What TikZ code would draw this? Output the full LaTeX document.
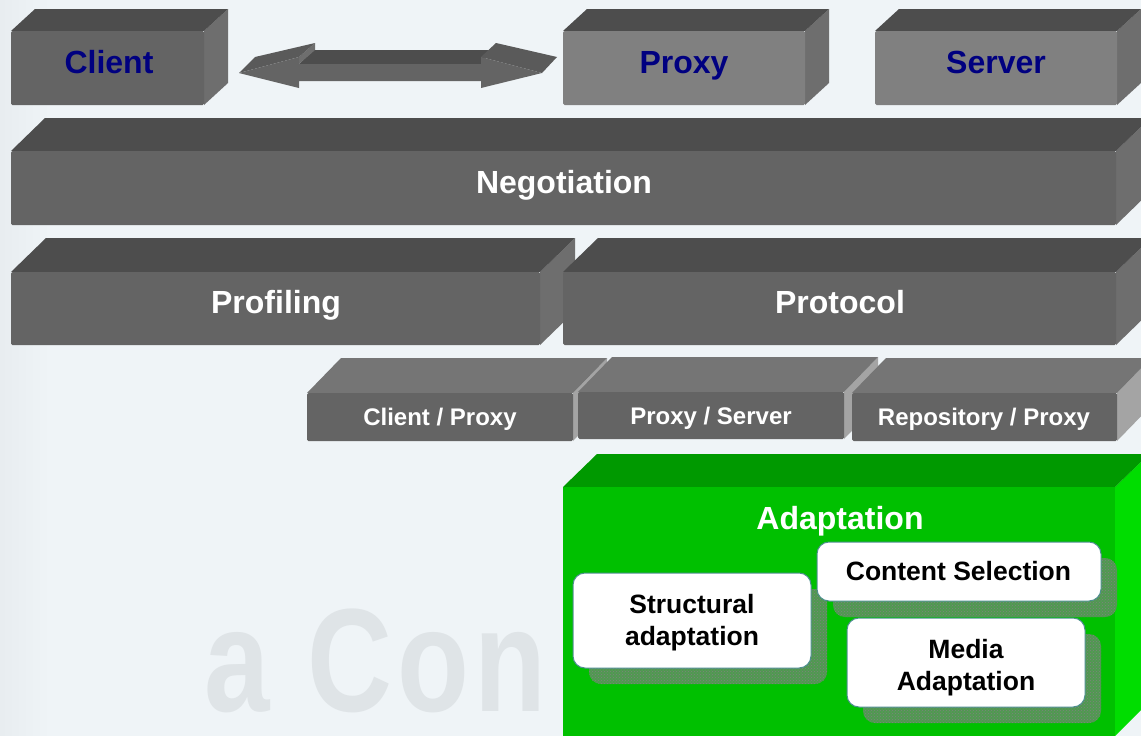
\documentclass[tikz,border=0pt]{standalone}
\usepackage{fontspec}
\setmainfont{Liberation Sans}
\newfontfamily\wmfont[LetterSpace=4.5]{Liberation Sans}
\usetikzlibrary{patterns}
\definecolor{bgc}{HTML}{EFF4F7}
\definecolor{wm}{HTML}{DFE4E7}
\definecolor{frontd}{HTML}{646464}
\definecolor{topd}{HTML}{4D4D4D}
\definecolor{sided}{HTML}{6E6E6E}
\definecolor{frontl}{HTML}{808080}
\definecolor{topm}{HTML}{757575}
\definecolor{sidel}{HTML}{A4A4A4}
\definecolor{grf}{HTML}{00C000}
\definecolor{grt}{HTML}{009900}
\definecolor{grs}{HTML}{00DD00}
\definecolor{navy}{HTML}{000080}
\definecolor{shad}{HTML}{4F9A50}
\definecolor{shaddots}{HTML}{808080}
\definecolor{edgec}{HTML}{4F8F8F}
\tikzset{
 lab/.style={anchor=base,inner sep=0pt},
 big/.style={lab,font=\bfseries\fontsize{32}{32}\selectfont,text=white},
 bigblue/.style={lab,font=\bfseries\fontsize{32}{32}\selectfont,text=navy},
 small/.style={lab,font=\bfseries\fontsize{24}{24}\selectfont,text=white},
 inner/.style={lab,font=\bfseries\fontsize{26.5}{32}\selectfont,text=black},
 softbox/.style={fill=white,draw=edgec,line width=1pt,rounded corners=12pt},
 softshadow/.style={rounded corners=12pt,preaction={fill=shad},pattern=crosshatch dots,pattern color=shaddots}
}
% x0, y0, x1, y1, dx, dy, front, top, side
\newcommand{\cubeface}[9]{%
 \fill[#9] (#3,#2) -- (#3+#5,#2-#6) -- (#3+#5,#4-#6) -- (#3,#4) -- cycle;
 \fill[#8] (#1,#2) -- (#1+#5,#2-#6) -- (#3+#5,#2-#6) -- (#3,#2) -- cycle;
 \fill[#7,rounded corners=1.5pt] (#1,#2) rectangle (#3,#4);
}
\begin{document}
\begin{tikzpicture}[x=1pt,y=-1pt]
\useasboundingbox (0,0) rectangle (1141,736);
\clip (0,0) rectangle (1141,736);
\fill[bgc] (0,0) rectangle (1141,736);
% faint background
\fill[left color=wm!45!bgc,right color=bgc] (0,0) rectangle (50,736);
\node[anchor=base west,font=\wmfont\bfseries\fontsize{147}{147}\selectfont,text=wm,inner sep=0pt,xscale=.8] (wmark) at (204,711) {a Con};
% cubes
\cubeface{11}{31}{204}{105}{24}{22}{frontd}{topd}{sided}
\cubeface{563}{31}{805}{105}{24}{22}{frontl}{topd}{sided}
\cubeface{875}{31}{1117}{105}{24}{22}{frontl}{topd}{sided}
\cubeface{11}{151}{1116}{225}{34}{33}{frontd}{topd}{sided}
\cubeface{11}{272}{540}{345}{35}{34}{frontd}{topd}{sided}
\cubeface{563}{272}{1116}{345}{35}{34}{frontd}{topd}{sided}
\cubeface{307}{393}{573}{441}{34}{35}{frontd}{topm}{sidel}
\cubeface{578}{392}{844}{439}{34}{35}{frontd}{topm}{sidel}
\cubeface{852}{393}{1117}{441}{34}{35}{frontd}{topm}{sidel}
\fill[grs] (1115,487) -- (1149,454) -- (1149,702) -- (1115,736) -- cycle;
\fill[grt] (563,487) -- (597,454) -- (1149,454) -- (1115,487) -- cycle;
\fill[grf] (563,487) rectangle (1115,736);
% double arrow
\coordinate (tipL) at (239,73);
\coordinate (tipR) at (542,73);
\fill[topd] (299,64) -- (314,50) -- (490,50) -- (481,64) -- cycle;
\fill[sided] (315,43) -- (315,50) -- (299,64) -- (299,57) -- cycle;
\fill[frontd!90!black] (tipL) -- (255,57) -- (315,43) -- (299,57) -- cycle;
\fill[frontd!90!black] (481,57) -- (496,43) -- (557,57) -- (tipR) -- cycle;
\fill[frontd] (tipL) -- (299,57) -- (299,64) -- (481,64) -- (481,57) -- (tipR) -- (481,88) -- (481,81) -- (299,81) -- (299,88) -- cycle;
% labels
\node[bigblue] (client) at (109,73) {Client};
\node[bigblue] (proxy) at (684,73) {Proxy};
\node[bigblue] (server) at (996,73) {Server};
\node[big] (nego) at (564,193) {Negotiation};
\node[big] (prof) at (276,313) {Profiling};
\node[big] (proto) at (840,313) {Protocol};
\node[small] (cp) at (440,425) {Client / Proxy};
\node[small] (ps) at (711,424) {Proxy / Server};
\node[small] (rp) at (984,425) {Repository / Proxy};
\node[big] (adapt) at (840,529) {Adaptation};
% inner boxes
\fill[softshadow] (589,589) rectangle (827,684);
\fill[softshadow] (833,558) rectangle (1117,617);
\fill[softshadow] (863,634) rectangle (1101,723);
\draw[softbox] (573,573) rectangle (811,668);
\node[inner] (struct1) at (692,613) {Structural};
\node[inner] (struct2) at (692,645) {adaptation};
\draw[softbox] (817,542) rectangle (1101,601);
\node[inner] (csel) at (958.5,580) {Content Selection};
\draw[softbox] (847,618) rectangle (1085,707);
\node[inner] (media1) at (966,658) {Media};
\node[inner] (media2) at (966,690) {Adaptation};
\end{tikzpicture}
\end{document}
